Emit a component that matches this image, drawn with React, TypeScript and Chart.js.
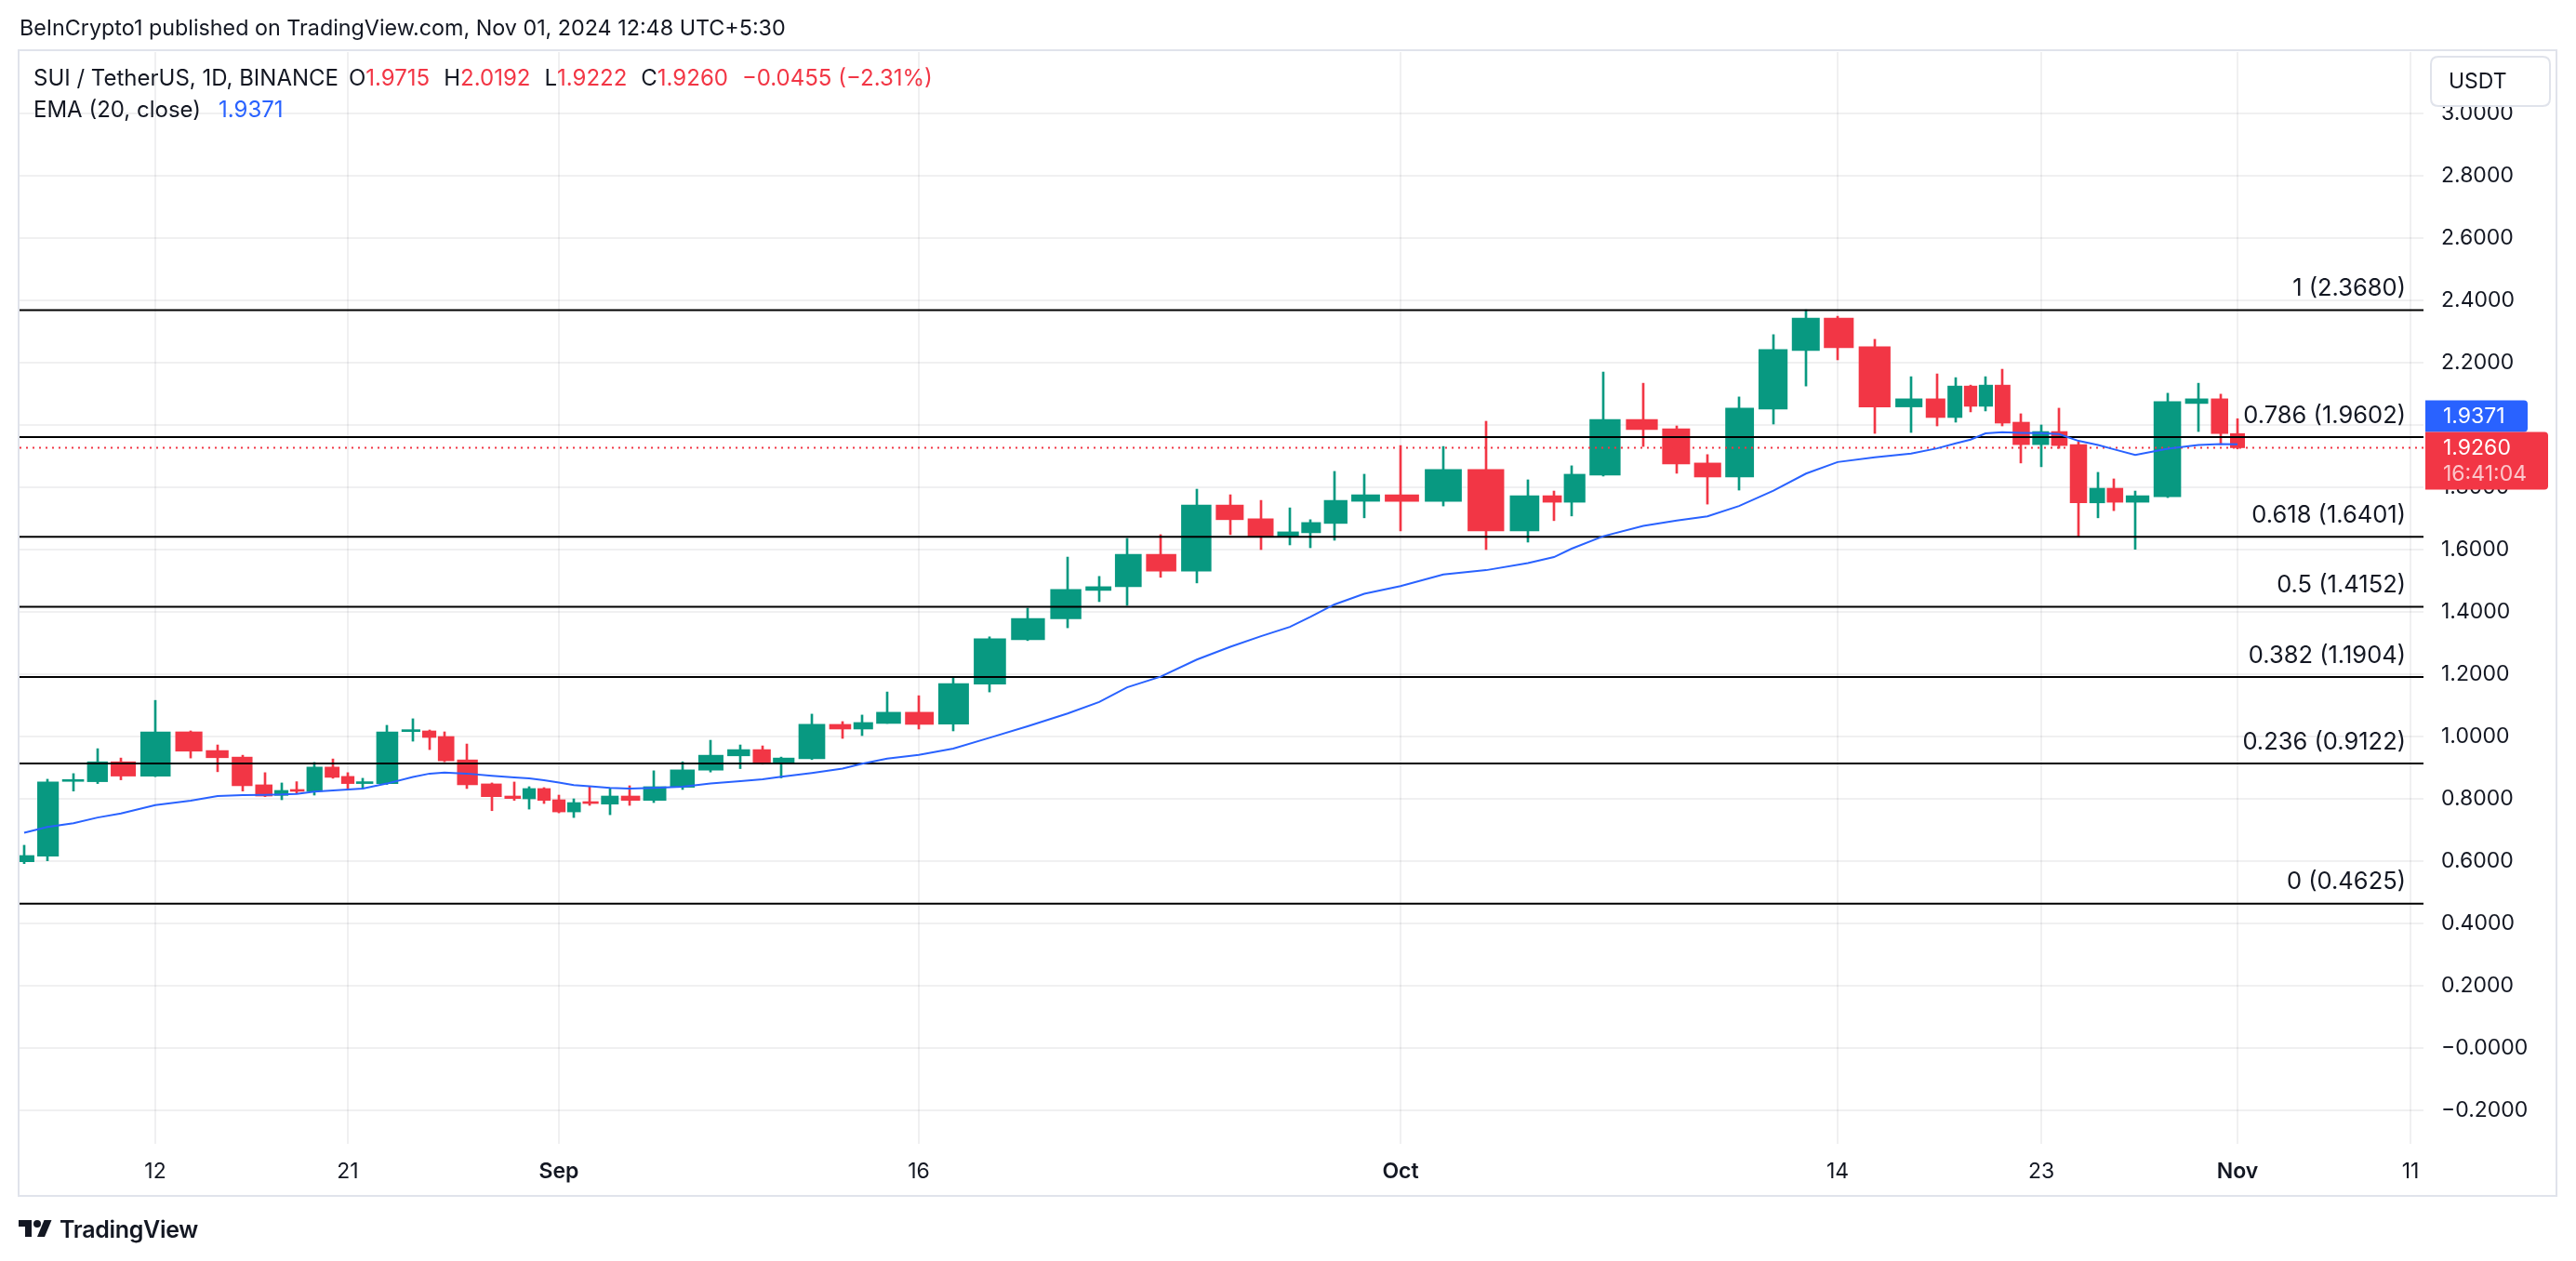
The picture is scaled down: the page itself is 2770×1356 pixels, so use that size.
import React, { useEffect, useRef } from 'react';
import { Chart, LinearScale, registerables } from 'chart.js';

// ---------------- data ----------------
const DATES = [
  '2024-08-07','2024-08-08','2024-08-09','2024-08-10','2024-08-11','2024-08-12','2024-08-13','2024-08-14','2024-08-15','2024-08-16',
  '2024-08-17','2024-08-18','2024-08-19','2024-08-20','2024-08-21','2024-08-22','2024-08-23','2024-08-24','2024-08-25','2024-08-26',
  '2024-08-27','2024-08-28','2024-08-29','2024-08-30','2024-08-31','2024-09-01','2024-09-02','2024-09-03','2024-09-04','2024-09-05',
  '2024-09-06','2024-09-07','2024-09-08','2024-09-09','2024-09-10','2024-09-11','2024-09-12','2024-09-13','2024-09-14','2024-09-15',
  '2024-09-16','2024-09-17','2024-09-18','2024-09-19','2024-09-20','2024-09-21','2024-09-22','2024-09-23','2024-09-24','2024-09-25',
  '2024-09-26','2024-09-27','2024-09-28','2024-09-29','2024-09-30','2024-10-01','2024-10-02','2024-10-03','2024-10-04','2024-10-05',
  '2024-10-06','2024-10-07','2024-10-08','2024-10-09','2024-10-10','2024-10-11','2024-10-12','2024-10-13','2024-10-14','2024-10-15',
  '2024-10-16','2024-10-17','2024-10-18','2024-10-19','2024-10-20','2024-10-21','2024-10-22','2024-10-23','2024-10-24','2024-10-25',
  '2024-10-26','2024-10-27','2024-10-28','2024-10-29','2024-10-30','2024-10-31','2024-11-01',
];

const OPEN = [
  0.597,0.615,0.855,0.854,0.918,0.872,1.014,0.954,0.933,0.844,
  0.810,0.829,0.823,0.901,0.871,0.848,0.848,1.015,1.017,0.999,
  0.924,0.847,0.808,0.799,0.832,0.796,0.757,0.790,0.782,0.808,
  0.794,0.836,0.891,0.937,0.957,0.916,0.928,1.038,1.023,1.041,
  1.077,1.039,1.167,1.310,1.377,1.468,1.480,1.584,1.530,1.742,
  1.698,1.639,1.653,1.683,1.754,1.775,1.754,1.856,1.659,1.772,
  1.751,1.838,2.017,1.987,1.877,1.832,2.050,2.238,2.342,2.250,
  2.057,2.083,2.023,2.124,2.059,2.127,2.008,1.936,1.978,1.936,
  1.749,1.796,1.751,1.769,2.068,2.083,1.9715,
];
const HIGH = [
  0.650,0.862,0.880,0.960,0.930,1.115,1.017,0.972,0.939,0.883,
  0.850,0.854,0.916,0.927,0.883,0.865,1.035,1.056,1.020,1.014,
  0.975,0.850,0.853,0.838,0.835,0.811,0.799,0.838,0.832,0.841,
  0.889,0.918,0.987,0.972,0.969,0.933,1.071,1.047,1.068,1.142,
  1.130,1.190,1.319,1.411,1.575,1.513,1.635,1.647,1.793,1.775,
  1.757,1.733,1.695,1.850,1.841,1.933,1.930,2.011,1.823,1.787,
  1.868,2.169,2.133,1.996,1.904,2.089,2.289,2.369,2.348,2.274,
  2.154,2.163,2.151,2.127,2.154,2.178,2.035,1.999,2.053,1.945,
  1.847,1.826,1.787,2.101,2.133,2.098,2.0192,
];
const LOW = [
  0.591,0.600,0.824,0.848,0.860,0.870,0.930,0.886,0.824,0.806,
  0.796,0.817,0.811,0.865,0.832,0.832,0.845,0.984,0.957,0.918,
  0.832,0.761,0.794,0.766,0.784,0.754,0.739,0.778,0.748,0.778,
  0.787,0.829,0.885,0.896,0.910,0.866,0.925,0.993,1.002,1.041,
  1.023,1.017,1.142,1.307,1.348,1.432,1.420,1.510,1.492,1.647,
  1.599,1.614,1.605,1.629,1.701,1.659,1.739,1.599,1.623,1.692,
  1.707,1.835,1.930,1.844,1.745,1.790,2.002,2.124,2.208,1.972,
  1.975,1.996,2.008,2.041,2.044,1.996,1.877,1.865,1.924,1.642,
  1.701,1.724,1.600,1.766,1.978,1.936,1.9222,
];
const CLOSE = [
  0.617,0.853,0.859,0.918,0.872,1.014,0.952,0.931,0.841,0.808,
  0.826,0.823,0.901,0.868,0.848,0.852,1.014,1.020,0.996,0.921,
  0.844,0.806,0.800,0.832,0.794,0.757,0.787,0.784,0.808,0.794,
  0.838,0.892,0.939,0.957,0.916,0.930,1.038,1.023,1.044,1.077,
  1.038,1.169,1.313,1.378,1.471,1.480,1.584,1.530,1.742,1.695,
  1.639,1.656,1.686,1.757,1.775,1.754,1.856,1.659,1.772,1.751,
  1.841,2.017,1.984,1.874,1.832,2.053,2.241,2.342,2.247,2.057,
  2.083,2.023,2.124,2.059,2.127,2.005,1.936,1.978,1.933,1.749,
  1.796,1.751,1.772,2.074,2.083,1.9715,1.9260,
];
const EMA20 = [
  0.690,0.709,0.721,0.739,0.752,0.779,0.793,0.808,0.811,0.812,
  0.813,0.815,0.822,0.826,0.829,0.832,0.848,0.869,0.880,0.883,
  0.880,0.873,0.868,0.865,0.859,0.851,0.843,0.839,0.834,0.832,
  0.834,0.838,0.848,0.856,0.862,0.870,0.882,0.896,0.912,0.928,
  0.940,0.960,0.995,1.032,1.073,1.110,1.157,1.191,1.246,1.287,
  1.321,1.351,1.383,1.423,1.457,1.482,1.519,1.533,1.556,1.575,
  1.602,1.642,1.675,1.692,1.706,1.739,1.788,1.843,1.880,1.895,
  1.907,1.924,1.940,1.952,1.972,1.976,1.974,1.973,1.970,1.948,
  1.935,1.921,1.903,1.923,1.935,1.938,1.9371,
];

const FIB_RATIOS = [1, 0.786, 0.618, 0.5, 0.382, 0.236, 0];
const FIB_PRICES = [2.368, 1.9602, 1.6401, 1.4152, 1.1904, 0.9122, 0.4625];

const X_TICK_DATES = ['2024-08-12','2024-08-21','2024-09-01','2024-09-16','2024-10-01','2024-10-14','2024-10-23','2024-11-01','2024-11-11'];
const X_TICK_LABELS = ['12', '21', 'Sep', '16', 'Oct', '14', '23', 'Nov', '11'];

const SYMBOL = 'SUI / TetherUS, 1D, BINANCE';
const EMA_TITLE = 'EMA (20, close)';
const PUBLISHED = 'BeInCrypto1 published on TradingView.com, Nov 01, 2024 12:48 UTC+5:30';
const COUNTDOWN = '16:41:04';

// ---------------- layout (reference pixels) ----------------
const W = 2770;
const H = 1356;
const PLOT_L = 21;
const PLOT_R = 2606;
const PLOT_T = 56;
const PLOT_B = 1230;
// The reference time axis is not evenly spaced: slot centre of each day along the plot width.
const AXIS_WARP_PX = [
  26,51,79,105,130,167,205,234,261,285,
  303,319,338,358,374,390,416,444,462,478,
  502,529,553,569,585,601,617,634,656,677,
  703,734,764,796,820,840,873,906,927,954,
  988,1025,1064,1105,1148,1182,1212,1248,1287,1323,
  1356,1387,1409,1435,1467,1506,1552,1598,1643,1671,
  1690,1724,1767,1803,1836,1870,1907,1942,1976,2016,
  2055,2083,2103,2119,2135,2153,2173,2195,2214,2235,
  2256,2273,2296,2331,2364,2388,2406,
];
const AXIS_WARP_EXTRA: [string, number][] = [['2024-11-11', 2592]];

const Y_MIN = -0.3084;
const Y_MAX = 3.196;

const FONT = 'Inter, "Noto Sans", sans-serif';
const TEXT = '#131722';
const GREEN = '#089981';
const RED = '#F23645';
const BLUE = '#2962FF';
const GRID = 'rgba(42, 46, 57, 0.07)';
const FRAME = '#E0E3EB';

// ---------------- helpers ----------------
const DAY = 86400000;
const dayOf = (d: string) => Math.round((Date.parse(d) - Date.parse(DATES[0])) / DAY);

type Knot = { v: number; f: number };
const KNOTS: Knot[] = [
  ...DATES.map((d, i) => ({ v: dayOf(d), f: (AXIS_WARP_PX[i] - PLOT_L) / (PLOT_R - PLOT_L) })),
  ...AXIS_WARP_EXTRA.map(([d, px]) => ({ v: dayOf(d), f: (px - PLOT_L) / (PLOT_R - PLOT_L) })),
];

function seg(knots: Knot[], key: 'v' | 'f', val: number) {
  const n = knots.length;
  let i = 0;
  if (val <= knots[0][key]) i = 0;
  else if (val >= knots[n - 1][key]) i = n - 2;
  else {
    while (i < n - 2 && knots[i + 1][key] < val) i++;
  }
  return i;
}
function valueToFrac(v: number) {
  const i = seg(KNOTS, 'v', v);
  const a = KNOTS[i], b = KNOTS[i + 1];
  return a.f + ((v - a.v) * (b.f - a.f)) / (b.v - a.v);
}
function fracToValue(f: number) {
  const i = seg(KNOTS, 'f', f);
  const a = KNOTS[i], b = KNOTS[i + 1];
  return a.v + ((f - a.f) * (b.v - a.v)) / (b.f - a.f);
}
const X_MIN = fracToValue(0);
const X_MAX = fracToValue(1);
const X_TICK_VALUES = X_TICK_DATES.map(dayOf);

class WarpScale extends LinearScale {
  static id = 'warp';
  static defaults = {};
  buildTicks() {
    return X_TICK_VALUES.map((value) => ({ value }));
  }
  getPixelForValue(value: number) {
    if (value === null || value === undefined || isNaN(value)) return NaN;
    return this.getPixelForDecimal(valueToFrac(value));
  }
  getValueForPixel(pixel: number) {
    return fracToValue(this.getDecimalForPixel(pixel));
  }
}

Chart.register(...registerables, WarpScale as any);

const fmt = (v: number) => {
  if (Math.abs(v) < 1e-9) return '\u22120.0000';
  return v < 0 ? '\u2212' + Math.abs(v).toFixed(4) : v.toFixed(4);
};

const LAST = DATES.length - 1;
const lastOpen = OPEN[LAST];
const lastHigh = HIGH[LAST];
const lastLow = LOW[LAST];
const lastClose = CLOSE[LAST];
const change = lastClose - CLOSE[LAST - 1];
const changePct = (change / CLOSE[LAST - 1]) * 100;
const lastEma = EMA20[LAST];

const isUp = (i: number) => CLOSE[i] >= OPEN[i];

function roundRect(ctx: CanvasRenderingContext2D, x: number, y: number, w: number, h: number, r: [number, number, number, number]) {
  ctx.beginPath();
  ctx.moveTo(x + r[0], y);
  ctx.lineTo(x + w - r[1], y);
  ctx.quadraticCurveTo(x + w, y, x + w, y + r[1]);
  ctx.lineTo(x + w, y + h - r[2]);
  ctx.quadraticCurveTo(x + w, y + h, x + w - r[2], y + h);
  ctx.lineTo(x + r[3], y + h);
  ctx.quadraticCurveTo(x, y + h, x, y + h - r[3]);
  ctx.lineTo(x, y + r[0]);
  ctx.quadraticCurveTo(x, y, x + r[0], y);
  ctx.closePath();
}

const overlayPlugin = {
  id: 'tvOverlay',
  beforeDraw(chart: any) {
    const ctx: CanvasRenderingContext2D = chart.ctx;
    ctx.save();
    ctx.fillStyle = '#ffffff';
    ctx.fillRect(0, 0, W, H);
    ctx.strokeStyle = FRAME;
    ctx.lineWidth = 2;
    ctx.strokeRect(20, 54, 2729, 1232);
    ctx.restore();
  },
  afterDraw(chart: any) {
    const ctx: CanvasRenderingContext2D = chart.ctx;
    const y = chart.scales.y;
    const area = chart.chartArea;
    ctx.save();
    // fib level labels
    ctx.font = `25.5px ${FONT}`;
    ctx.fillStyle = TEXT;
    ctx.textAlign = 'right';
    ctx.textBaseline = 'middle';
    FIB_RATIOS.forEach((r, i) => {
      const py = y.getPixelForValue(FIB_PRICES[i]);
      ctx.fillText(`${r} (${FIB_PRICES[i].toFixed(4)})`, area.right - 19, py - 23);
    });

    // currency box
    ctx.fillStyle = '#ffffff';
    ctx.strokeStyle = FRAME;
    ctx.lineWidth = 2;
    roundRect(ctx, 2614, 61, 128, 53, [8, 8, 8, 8]);
    ctx.fill();
    ctx.stroke();
    ctx.fillStyle = TEXT;
    ctx.textAlign = 'left';
    ctx.font = `23px ${FONT}`;
    ctx.fillText('USDT', 2633, 88);

    // price labels
    const pc = y.getPixelForValue(lastClose);
    const pe = y.getPixelForValue(lastEma);
    const redTop = pc - 17;
    const redH = 62;
    const blueH = 34;
    let blueTop = pe - 17;
    if (blueTop + blueH > redTop) blueTop = redTop - blueH;

    ctx.fillStyle = BLUE;
    roundRect(ctx, area.right + 2, blueTop, 110, blueH, [0, 4, 4, 0]);
    ctx.fill();
    ctx.fillStyle = '#ffffff';
    ctx.fillText(fmt(lastEma), 2627, blueTop + blueH / 2 + 1);

    ctx.fillStyle = RED;
    roundRect(ctx, area.right + 2, redTop, 132, redH, [0, 4, 4, 0]);
    ctx.fill();
    ctx.fillStyle = '#ffffff';
    ctx.fillText(fmt(lastClose), 2627, pc + 1);
    ctx.fillStyle = 'rgba(255,255,255,0.72)';
    ctx.fillText(COUNTDOWN, 2627, pc + 29);
    ctx.restore();
  },
};

export default function App() {
  const ref = useRef<HTMLCanvasElement | null>(null);

  useEffect(() => {
    document.body.style.margin = '0';
    const xs = DATES.map(dayOf);
    const colorAt = (c: any) => (isUp(c.dataIndex) ? GREEN : RED);
    const fibSets = FIB_PRICES.map((p) => ({
      type: 'line' as const,
      data: [{ x: X_MIN, y: p }, { x: X_MAX, y: p }],
      borderColor: '#000000',
      borderWidth: 2,
      pointRadius: 0,
      order: 2,
    }));

    const chart = new Chart(ref.current as HTMLCanvasElement, {
      type: 'bar',
      data: {
        datasets: [
          {
            type: 'line',
            data: xs.map((x, i) => ({ x, y: EMA20[i] })),
            borderColor: BLUE,
            borderWidth: 2,
            pointRadius: 0,
            tension: 0,
            order: 0,
          } as any,
          {
            type: 'line',
            data: [{ x: X_MIN, y: lastClose }, { x: X_MAX, y: lastClose }],
            borderColor: RED,
            borderWidth: 2,
            borderDash: [2, 5],
            pointRadius: 0,
            order: 1,
          } as any,
          ...(fibSets as any[]),
          {
            type: 'bar',
            data: xs.map((x, i) => ({ x, y: [OPEN[i], CLOSE[i]] })),
            backgroundColor: colorAt,
            borderWidth: 0,
            barThickness: 'flex',
            categoryPercentage: 0.85,
            barPercentage: 1,
            minBarLength: 2,
            stack: 'candle',
            order: 3,
          } as any,
          {
            type: 'bar',
            data: xs.map((x, i) => ({ x, y: [LOW[i], HIGH[i]] })),
            backgroundColor: colorAt,
            borderWidth: 0,
            barThickness: 2,
            stack: 'candle',
            order: 4,
          } as any,
        ],
      },
      options: {
        responsive: false,
        animation: false,
        devicePixelRatio: 1,
        events: [],
        layout: { padding: { left: PLOT_L, top: PLOT_T, right: 0, bottom: 0 } },
        plugins: { legend: { display: false }, tooltip: { enabled: false } },
        scales: {
          x: {
            type: 'warp' as any,
            min: X_MIN,
            max: X_MAX,
            offset: false,
            grid: { color: GRID, lineWidth: 2, drawTicks: false, offset: false },
            border: { display: false },
            ticks: {
              autoSkip: false,
              maxRotation: 0,
              minRotation: 0,
              padding: 16,
              color: TEXT,
              font: (c: any) => ({
                family: FONT,
                size: 23,
                weight: isNaN(Number(X_TICK_LABELS[c.index])) ? '600' : '400',
              }),
              callback: (_v: any, i: number) => X_TICK_LABELS[i],
            },
            afterFit: (s: any) => {
              s.height = H - PLOT_B;
            },
          } as any,
          y: {
            type: 'linear',
            position: 'right',
            min: Y_MIN,
            max: Y_MAX,
            stacked: false,
            grid: { color: GRID, lineWidth: 2, drawTicks: false },
            border: { display: false },
            ticks: {
              stepSize: 0.2,
              includeBounds: false,
              padding: 19,
              color: TEXT,
              font: { family: FONT, size: 23 },
              callback: (v: any) => fmt(Number(v)),
            },
            afterFit: (s: any) => {
              s.width = W - PLOT_R;
            },
          } as any,
        },
      },
      plugins: [overlayPlugin],
    });
    return () => chart.destroy();
  }, []);

  const gap = { marginLeft: 15 };
  return (
    <div
      style={{
        position: 'fixed',
        left: 0,
        top: 0,
        width: W,
        height: H,
        overflow: 'hidden',
        background: '#ffffff',
        fontFamily: FONT,
        color: TEXT,
      }}
    >
      <canvas ref={ref} width={W} height={H} style={{ position: 'absolute', left: 0, top: 0, width: W, height: H }} />
      <div style={{ position: 'absolute', left: 21, top: 14, height: 32, lineHeight: '32px', fontSize: 23.3, whiteSpace: 'pre' }}>
        {PUBLISHED}
      </div>
      <div style={{ position: 'absolute', left: 36, top: 68, height: 32, lineHeight: '32px', fontSize: 24, whiteSpace: 'pre', display: 'flex' }}>
        <span>{SYMBOL}</span>
        <span style={{ marginLeft: 11 }}>O</span>
        <span style={{ color: RED }}>{fmt(lastOpen)}</span>
        <span style={gap}>H</span>
        <span style={{ color: RED }}>{fmt(lastHigh)}</span>
        <span style={gap}>L</span>
        <span style={{ color: RED }}>{fmt(lastLow)}</span>
        <span style={gap}>C</span>
        <span style={{ color: RED }}>{fmt(lastClose)}</span>
        <span style={{ ...gap, color: RED }}>{`${fmt(change)} (${changePct < 0 ? '\u2212' : '+'}${Math.abs(changePct).toFixed(2)}%)`}</span>
      </div>
      <div style={{ position: 'absolute', left: 36, top: 102, height: 32, lineHeight: '32px', fontSize: 24, whiteSpace: 'pre', display: 'flex' }}>
        <span>{EMA_TITLE}</span>
        <span style={{ marginLeft: 19, color: BLUE }}>{fmt(lastEma)}</span>
      </div>
      <div style={{ position: 'absolute', left: 18, top: 1306, height: 32, display: 'flex', alignItems: 'center' }}>
        <svg width="40" height="28" viewBox="0 0 36 28">
          <path d="M14 22H7V11H0V4h14v18z" fill={TEXT} />
          <path d="M28 22h-8l7.5-18h8L28 22z" fill={TEXT} />
          <circle cx="20" cy="8" r="4" fill={TEXT} />
        </svg>
        <span style={{ marginLeft: 6, fontSize: 25, fontWeight: 600, letterSpacing: -0.3 }}>TradingView</span>
      </div>
    </div>
  );
}
